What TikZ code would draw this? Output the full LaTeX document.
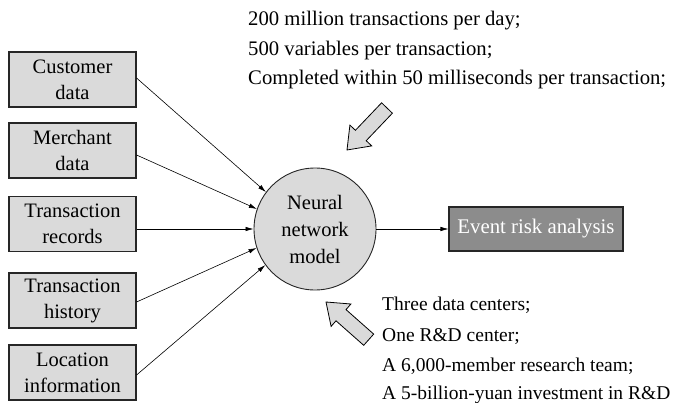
\documentclass[tikz,border=0pt]{standalone}
\usepackage{fontspec}
\setmainfont{Liberation Serif}
\usetikzlibrary{arrows.meta}
\definecolor{boxgray}{RGB}{218,218,218}
\definecolor{darkbox}{RGB}{140,140,140}
\begin{document}
\begin{tikzpicture}[x=1pt,y=-1pt,
  inbox/.style={draw=black!85, line width=1.1pt, fill=boxgray, minimum width=127pt, minimum height=55pt,
    inner sep=1pt, align=center, font=\fontsize{20.5}{26}\selectfont},
  conn/.style={line width=0.6pt, -{Latex[length=8pt,width=4.5pt]}},
  txt/.style={anchor=base west, inner sep=0pt, font=\fontsize{19.5}{24}\selectfont},
  toptxt/.style={txt, font=\fontsize{20.7}{24}\selectfont},
  blockarrow/.style={draw=black, line width=0.8pt, fill=boxgray, line join=miter}]
\useasboundingbox (0,0) rectangle (692,403);
\node[inbox] (b1) at (72.5,79.5) {Customer\\data};
\node[inbox] (b2) at (72.5,150.5) {Merchant\\data};
\node[inbox] (b3) at (72.5,224) {Transaction\\records};
\node[inbox] (b4) at (72.5,300.5) {Transaction\\history};
\node[inbox] (b5) at (72.5,372.5) {Location\\information};
\node[circle, draw=black!85, line width=0.9pt, fill=boxgray, minimum size=122pt, inner sep=0pt,
  align=center, font=\fontsize{20.5}{27}\selectfont] (nn) at (315,229) {Neural\\network\\model};
\node[draw=black!85, line width=1.1pt, fill=darkbox, text=white, minimum width=174pt, minimum height=44pt,
  inner sep=0pt, font=\fontsize{20.8}{24}\selectfont] (ev) at (536,229) {Event risk analysis};
\draw[conn] ([yshift=1.5pt]b1.east) -- (nn.143);
\draw[conn] ([yshift=-4.5pt]b2.east) -- (nn.161);
\draw[conn] ([yshift=-5pt]b3.east) -- (nn.180);
\draw[conn] ([yshift=-1.5pt]b4.east) -- (nn.198);
\draw[conn] ([yshift=-2.5pt]b5.east) -- (nn.216);
\draw[conn] (nn.east) -- (ev.west);
\node[toptxt] (t1) at (248,26) {200 million transactions per day;};
\node[toptxt] (t2) at (248,55.5) {500 variables per transaction;};
\node[toptxt] (t3) at (248,85) {Completed within 50 milliseconds per transaction;};
\node[txt] (s1) at (382,310) {Three data centers;};
\node[txt] (s2) at (382,341) {One R\&D center;};
\node[txt] (s3) at (382,371) {A 6,000-member research team;};
\node[txt] (s4) at (382,399) {A 5-billion-yuan investment in R\&D};
\draw[blockarrow] (347,150) -- (371.7,145.9) -- (366.2,140.7) -- (392.4,113.2) -- (381.6,102.8)
  -- (355.4,130.3) -- (349.9,125.1) -- cycle;
\draw[blockarrow] (326,302) -- (331.1,326.4) -- (336.0,320.8) -- (363.7,345.3) -- (373.7,334.1)
  -- (346.0,309.6) -- (350.9,304.0) -- cycle;
\end{tikzpicture}
\end{document}
